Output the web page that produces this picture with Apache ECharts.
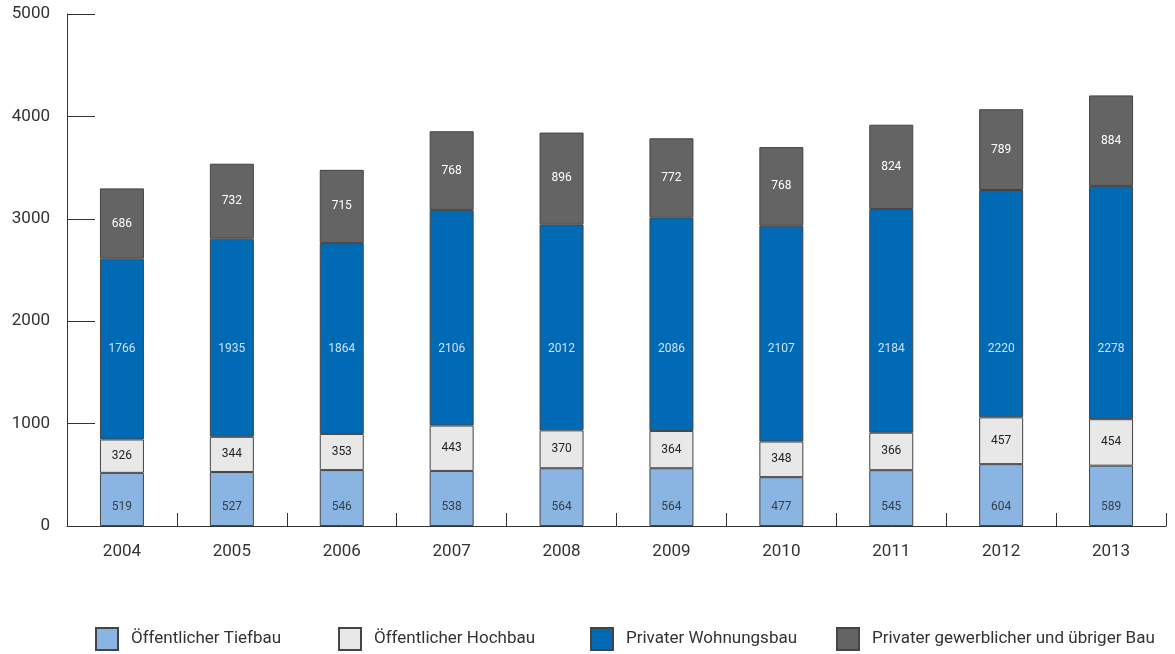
<!DOCTYPE html>
<html>
<head>
<meta charset="utf-8">
<script src="https://cdn.jsdelivr.net/npm/echarts@6/dist/echarts.min.js"></script>
<style>
  html, body { margin: 0; padding: 0; background: #fff; }
  #chart { width: 1175px; height: 654px; }
</style>
</head>
<body>
<div id="chart"></div>
<script>
var jahre = ['2004', '2005', '2006', '2007', '2008', '2009', '2010', '2011', '2012', '2013'];
var tiefbau = [519, 527, 546, 538, 564, 564, 477, 545, 604, 589];
var hochbau = [326, 344, 353, 443, 370, 364, 348, 366, 457, 454];
var wohnungsbau = [1766, 1935, 1864, 2106, 2012, 2086, 2107, 2184, 2220, 2278];
var gewerbe = [686, 732, 715, 768, 896, 772, 768, 824, 789, 884];
var namen = ['Öffentlicher Tiefbau', 'Öffentlicher Hochbau', 'Privater Wohnungsbau', 'Privater gewerblicher und übriger Bau'];

var chart = echarts.init(document.getElementById('chart'));

// Balken; Beschriftung optional (bei Tiefbau/Wohnungsbau stehen die Zahlen auf fester Hoehe)
function reihe(name, data, farbe, textFarbe, mitLabel) {
    return {
        name: name,
        type: 'bar',
        stack: 'bau',
        data: data,
        barWidth: 44,
        itemStyle: { color: farbe, borderColor: '#444', borderWidth: 1 },
        label: {
            show: mitLabel,
            position: 'inside',
            color: textFarbe,
            fontSize: 12,
            fontFamily: 'Roboto'
        }
    };
}

// unsichtbare Punkte, die nur die Zahl auf einer festen Wertehoehe tragen
function labelReihe(data, hoehe, textFarbe) {
    return {
        type: 'scatter',
        symbolSize: 0,
        silent: true,
        z: 5,
        data: data.map(function (v, i) { return { value: [jahre[i], hoehe], wert: v }; }),
        label: {
            show: true,
            position: 'inside',
            color: textFarbe,
            fontSize: 12,
            fontFamily: 'Roboto',
            formatter: function (p) { return p.data.wert; }
        }
    };
}

function legende(i, links) {
    return {
        left: links,
        top: 627,
        padding: 0,
        itemWidth: 22,
        itemHeight: 22,
        icon: 'rect',
        textStyle: { fontSize: 17, color: '#333', fontFamily: 'Roboto', padding: [0, 0, 0, 8] },
        data: [namen[i]]
    };
}

chart.setOption({
    animation: false,
    textStyle: { fontFamily: 'Roboto' },
    grid: { left: 67, right: 9, top: 14, bottom: 128 },
    legend: [legende(0, 95), legende(1, 338), legende(2, 590), legende(3, 836)],
    xAxis: {
        type: 'category',
        data: jahre,
        axisLine: { lineStyle: { color: '#333', width: 1 } },
        axisTick: { show: true, inside: true, length: 13, lineStyle: { color: '#333' } },
        axisLabel: { color: '#333', fontSize: 17, margin: 17 }
    },
    yAxis: {
        type: 'value',
        min: 0,
        max: 5000,
        interval: 1000,
        axisLine: { show: true, lineStyle: { color: '#333', width: 1 } },
        axisTick: { show: true, inside: true, length: 28, lineStyle: { color: '#333' } },
        splitLine: { show: false },
        axisLabel: { color: '#333', fontSize: 17, margin: 17, formatter: function (v) { return String(v); } }
    },
    series: [
        reihe(namen[0], tiefbau, '#8ab4e2', '#222', false),
        reihe(namen[1], hochbau, '#e8e8e8', '#222', true),
        reihe(namen[2], wohnungsbau, '#006ab5', '#fff', false),
        reihe(namen[3], gewerbe, '#646464', '#fff', true),
        labelReihe(tiefbau, 185, '#222'),
        labelReihe(wohnungsbau, 1728, '#fff')
    ]
});
</script>
</body>
</html>
